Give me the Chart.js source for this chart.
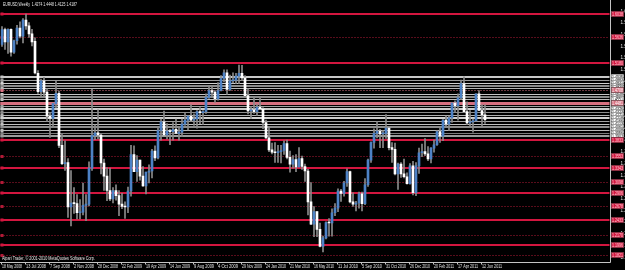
<!DOCTYPE html>
<html>
<head>
<meta charset="utf-8">
<title>EURUSD Weekly</title>
<script src="https://cdn.jsdelivr.net/npm/chart.js@4.4.1/dist/chart.umd.min.js"></script>
<style>
  html, body { margin: 0; padding: 0; background: #000; }
  #wrap { width: 625px; height: 270px; position: relative; }
</style>
</head>
<body>
<div id="wrap"><canvas id="chart"></canvas></div>
<script>
'use strict';

// ******* DATA *********
let months = ['Jan', 'Feb', 'Mar', 'Apr', 'May', 'Jun', 'Jul', 'Aug', 'Sep', 'Oct', 'Nov', 'Dec'];
let totalSlots = 203; // weekly slots, the last ones are the empty right margin
let labelEvery = 8;

let opens = [
  1.5505, 1.5767, 1.5550, 1.5770, 1.5370, 1.5570, 1.5790, 1.5650, 1.5930, 1.5830, 1.5690, 1.5560,
  1.5000, 1.4680, 1.4870, 1.4670, 1.4250, 1.4210, 1.4470, 1.4650, 1.3740, 1.3420, 1.3440, 1.2660,
  1.2730, 1.2720, 1.2560, 1.2570, 1.2690, 1.2710, 1.3340, 1.3910, 1.3960, 1.3920, 1.3430, 1.3200,
  1.2950, 1.2800, 1.2950, 1.2860, 1.2710, 1.2670, 1.2660, 1.2940, 1.3580, 1.3280, 1.3480, 1.3200,
  1.3030, 1.3270, 1.3290, 1.3640, 1.3520, 1.4000, 1.4150, 1.3920, 1.3990, 1.3980, 1.4020, 1.3950,
  1.3970, 1.4110, 1.4180, 1.4250, 1.4180, 1.4200, 1.4330, 1.4310, 1.4330, 1.4580, 1.4700, 1.4670,
  1.4550, 1.4700, 1.4910, 1.5010, 1.4720, 1.4870, 1.4880, 1.4950, 1.5000, 1.4920, 1.4610, 1.4340,
  1.4360, 1.4330, 1.4410, 1.4380, 1.4140, 1.3870, 1.3660, 1.3620, 1.3610, 1.3630, 1.3650, 1.3770,
  1.3530, 1.3410, 1.3490, 1.3360, 1.3510, 1.3370, 1.3290, 1.2750, 1.2360, 1.2580, 1.2270, 1.1970,
  1.2120, 1.2390, 1.2380, 1.2560, 1.2640, 1.2940, 1.2900, 1.3080, 1.3280, 1.2750, 1.2710, 1.2730,
  1.2890, 1.2720, 1.3050, 1.3480, 1.3790, 1.3950, 1.3990, 1.3940, 1.3950, 1.4040, 1.3700, 1.3670,
  1.3240, 1.3410, 1.3240, 1.3190, 1.3070, 1.3380, 1.2910, 1.3380, 1.3610, 1.3630, 1.3590, 1.3500,
  1.3690, 1.3750, 1.3980, 1.3900, 1.4180, 1.4110, 1.4220, 1.4480, 1.4430, 1.4570, 1.4820, 1.4330,
  1.4130, 1.4150, 1.4170, 1.4640, 1.4350, 1.4274
];
let highs = [
  1.5818, 1.5790, 1.5780, 1.5780, 1.5580, 1.5840, 1.5900, 1.5960, 1.6038, 1.5890, 1.5770, 1.5620,
  1.5050, 1.4900, 1.4930, 1.4730, 1.4300, 1.4480, 1.4860, 1.4690, 1.3940, 1.3820, 1.3510, 1.3300,
  1.3000, 1.2880, 1.2790, 1.3080, 1.2880, 1.3450, 1.4720, 1.4100, 1.4360, 1.3940, 1.3500, 1.3350,
  1.3340, 1.3000, 1.3050, 1.2950, 1.2900, 1.2750, 1.3010, 1.3740, 1.3730, 1.3560, 1.3480, 1.3370,
  1.3270, 1.3400, 1.3670, 1.3730, 1.4050, 1.4200, 1.4340, 1.4120, 1.4020, 1.4140, 1.4200, 1.4070,
  1.4200, 1.4300, 1.4260, 1.4450, 1.4290, 1.4350, 1.4400, 1.4350, 1.4640, 1.4770, 1.4780, 1.4700,
  1.4840, 1.4960, 1.5060, 1.5060, 1.4970, 1.5010, 1.5000, 1.5145, 1.5140, 1.4960, 1.4730, 1.4420,
  1.4570, 1.4460, 1.4580, 1.4400, 1.4180, 1.4040, 1.3780, 1.3790, 1.3740, 1.3740, 1.3820, 1.3830,
  1.3640, 1.3560, 1.3580, 1.3700, 1.3550, 1.3410, 1.3320, 1.3090, 1.2670, 1.2580, 1.2380, 1.2150,
  1.2400, 1.2460, 1.2630, 1.2720, 1.2980, 1.2970, 1.3110, 1.3330, 1.3290, 1.2910, 1.2760, 1.2920,
  1.2920, 1.3160, 1.3500, 1.3800, 1.4030, 1.4160, 1.4020, 1.4000, 1.4280, 1.4070, 1.3790, 1.3780,
  1.3430, 1.3440, 1.3500, 1.3260, 1.3420, 1.3460, 1.3440, 1.3690, 1.3760, 1.3860, 1.3720, 1.3700,
  1.3830, 1.4000, 1.4040, 1.4190, 1.4250, 1.4250, 1.4490, 1.4520, 1.4640, 1.4880, 1.4940, 1.4500,
  1.4350, 1.4200, 1.4640, 1.4700, 1.4450, 1.4448
];
let lows = [
  1.5470, 1.5420, 1.5350, 1.5300, 1.5350, 1.5510, 1.5620, 1.5530, 1.5770, 1.5630, 1.5480, 1.4990,
  1.4650, 1.4600, 1.4580, 1.4160, 1.3880, 1.4050, 1.4400, 1.3700, 1.3400, 1.3300, 1.2480, 1.2330,
  1.2550, 1.2450, 1.2450, 1.2520, 1.2420, 1.2680, 1.3300, 1.3840, 1.3850, 1.3240, 1.2950, 1.2770,
  1.2770, 1.2730, 1.2780, 1.2510, 1.2630, 1.2460, 1.2560, 1.2850, 1.3280, 1.3110, 1.3130, 1.3020,
  1.2890, 1.3080, 1.3170, 1.3470, 1.3500, 1.3830, 1.3920, 1.3850, 1.3750, 1.3830, 1.3960, 1.3830,
  1.3890, 1.4090, 1.4010, 1.4160, 1.4090, 1.4040, 1.4120, 1.4100, 1.4300, 1.4560, 1.4580, 1.4490,
  1.4530, 1.4690, 1.4850, 1.4630, 1.4700, 1.4830, 1.4820, 1.4820, 1.4870, 1.4580, 1.4290, 1.4210,
  1.4300, 1.4260, 1.4370, 1.4030, 1.3860, 1.3630, 1.3590, 1.3440, 1.3440, 1.3430, 1.3580, 1.3500,
  1.3270, 1.3340, 1.3280, 1.3360, 1.3320, 1.3110, 1.2520, 1.2350, 1.2140, 1.2140, 1.1960, 1.1876,
  1.2100, 1.2150, 1.2150, 1.2510, 1.2580, 1.2760, 1.2850, 1.3020, 1.2730, 1.2670, 1.2590, 1.2640,
  1.2590, 1.2700, 1.3020, 1.3440, 1.3690, 1.3870, 1.3700, 1.3700, 1.3860, 1.3660, 1.3440, 1.3220,
  1.2970, 1.3180, 1.3170, 1.3060, 1.3060, 1.2870, 1.2860, 1.3250, 1.3540, 1.3560, 1.3470, 1.3430,
  1.3620, 1.3740, 1.3790, 1.3820, 1.4050, 1.4000, 1.4140, 1.4310, 1.4180, 1.4540, 1.4310, 1.4100,
  1.4050, 1.3970, 1.4160, 1.4350, 1.4070, 1.4125
];
let closes = [
  1.5767, 1.5550, 1.5770, 1.5370, 1.5570, 1.5790, 1.5650, 1.5930, 1.5830, 1.5690, 1.5550, 1.5005,
  1.4680, 1.4870, 1.4670, 1.4250, 1.4210, 1.4470, 1.4650, 1.3740, 1.3420, 1.3440, 1.2660, 1.2730,
  1.2720, 1.2560, 1.2570, 1.2690, 1.2710, 1.3340, 1.3910, 1.3960, 1.3920, 1.3430, 1.3200, 1.2950,
  1.2800, 1.2950, 1.2860, 1.2710, 1.2670, 1.2660, 1.2940, 1.3580, 1.3280, 1.3480, 1.3200, 1.3030,
  1.3270, 1.3290, 1.3640, 1.3520, 1.4000, 1.4150, 1.3920, 1.3990, 1.3980, 1.4020, 1.3950, 1.3970,
  1.4110, 1.4180, 1.4250, 1.4180, 1.4200, 1.4330, 1.4310, 1.4330, 1.4580, 1.4700, 1.4670, 1.4550,
  1.4700, 1.4910, 1.5010, 1.4720, 1.4870, 1.4880, 1.4950, 1.5000, 1.4920, 1.4610, 1.4340, 1.4360,
  1.4330, 1.4410, 1.4380, 1.4140, 1.3870, 1.3660, 1.3620, 1.3610, 1.3630, 1.3650, 1.3770, 1.3530,
  1.3410, 1.3490, 1.3360, 1.3510, 1.3370, 1.3290, 1.2750, 1.2360, 1.2580, 1.2270, 1.1970, 1.2120,
  1.2390, 1.2380, 1.2560, 1.2640, 1.2940, 1.2900, 1.3080, 1.3280, 1.2750, 1.2710, 1.2730, 1.2890,
  1.2720, 1.3050, 1.3480, 1.3790, 1.3950, 1.3990, 1.3940, 1.3950, 1.4040, 1.3700, 1.3670, 1.3240,
  1.3410, 1.3240, 1.3190, 1.3070, 1.3380, 1.2910, 1.3380, 1.3610, 1.3630, 1.3590, 1.3500, 1.3690,
  1.3750, 1.3980, 1.3900, 1.4180, 1.4110, 1.4220, 1.4480, 1.4430, 1.4570, 1.4820, 1.4330, 1.4130,
  1.4150, 1.4170, 1.4640, 1.4350, 1.4270, 1.4187
];

// price scale labels on the right
let priceTicks = [
  1.1780, 1.1985, 1.2190, 1.2395, 1.2600, 1.2805, 1.3010, 1.3215, 1.3420, 1.3625, 1.3830,
  1.4035, 1.4240, 1.4445, 1.4650, 1.4855, 1.5060, 1.5265, 1.5470, 1.5675, 1.5880, 1.6085
];
let priceMin = 1.1698;
let priceMax = 1.6283;

// horizontal levels drawn on the chart
let redLevels = [1.6038, 1.5180, 1.3833, 1.3343, 1.2906, 1.2433, 1.1996];
let redDotLevels = [1.5636, 1.3553, 1.3098, 1.2678, 1.2170, 1.1821];
let pinkLevels = [1.4481];
let pinkDotLevels = [1.4708];
let greyLevels = [
  1.4935, 1.4883, 1.4831, 1.4778, 1.4743, 1.4638, 1.4586, 1.4551, 1.4428, 1.4376,
  1.4323, 1.4271, 1.4218, 1.4166, 1.4113, 1.4061, 1.4008, 1.3956, 1.3903
];
let greyShades = ['#c8c8c8', '#9a9a9a', '#d0d0d0', '#8c8c8c', '#b4b4b4', '#c4c4c4', '#8c8c8c',
  '#bcbcbc', '#a0a0a0', '#cccccc', '#8c8c8c', '#b0b0b0', '#d0d0d0', '#a0a0a0', '#c0c0c0',
  '#8c8c8c', '#b8b8b8', '#7c7c7c', '#9c9c9c'];

let titleText = 'EURUSD,Weekly  1.4274 1.4448 1.4125 1.4187';
let copyText = 'Alpari Trader, \u00a9 2001-2010 MetaQuotes Software Corp.';

// ******* COLOURS ********
let bullColor = '#4d82c6';
let bearColor = '#ffffff';
let wickColor = '#8a8a8a';
let redColor = '#d3163f';
let redDotColor = '#b01a36';
let pinkColor = '#d77080';
let frameColor = '#c4c4c4';
let tinyFont = '4.6px "Liberation Sans", Arial, sans-serif';

// ******* HELPERS ********
function weekLabel(i) {
  let d = new Date(Date.UTC(2008, 4, 18 + 7 * i));
  return d.getUTCDate() + ' ' + months[d.getUTCMonth()] + ' ' + d.getUTCFullYear();
}

let weeks = [];
for (let i = 0; i < totalSlots; i++) {
  weeks.push(weekLabel(i));
}

let bodies = opens.map((o, i) => [o, closes[i]]);
let wicks = lows.map((l, i) => [l, highs[i]]);
let bodyColors = opens.map((o, i) => (closes[i] >= o ? bullColor : bearColor));

function drawLevel(ctx, area, yScale, value, color, width, dash) {
  let py = Math.round(yScale.getPixelForValue(value)) + (width % 2 ? 0.5 : 0);
  ctx.beginPath();
  ctx.strokeStyle = color;
  ctx.lineWidth = width;
  ctx.setLineDash(dash || []);
  ctx.moveTo(area.left, py);
  ctx.lineTo(area.right, py);
  ctx.stroke();
  ctx.setLineDash([]);
  ctx.fillStyle = color;
  ctx.fillRect(area.left, py - 1.5, 3, 3);
}

function drawPriceBox(ctx, x, yScale, value, fill, textColor) {
  let py = Math.round(yScale.getPixelForValue(value));
  ctx.fillStyle = fill;
  ctx.fillRect(x, py - 3, 13, 6);
  ctx.strokeStyle = '#444';
  ctx.lineWidth = 0.5;
  ctx.strokeRect(x + 0.25, py - 2.75, 12.5, 5.5);
  ctx.fillStyle = textColor;
  ctx.fillText(value.toFixed(4), x + 1, py + 0.3, 11);
}

// ******* PLUGIN FOR LEVELS, FRAME AND TEXTS ********
let levelsPlugin = {
  id: 'levels',
  beforeDatasetsDraw(chart) {
    let ctx = chart.ctx;
    let area = chart.chartArea;
    let y = chart.scales.y;
    ctx.save();
    greyLevels.forEach((v, i) => drawLevel(ctx, area, y, v, greyShades[i % greyShades.length], i % 3 === 0 ? 2 : 1));
    pinkDotLevels.forEach(v => drawLevel(ctx, area, y, v, pinkColor, 1, [1, 2]));
    pinkLevels.forEach(v => drawLevel(ctx, area, y, v, pinkColor, 3));
    redDotLevels.forEach(v => drawLevel(ctx, area, y, v, redDotColor, 1, [1, 2]));
    redLevels.forEach(v => drawLevel(ctx, area, y, v, redColor, 2));
    ctx.restore();
  },
  afterDraw(chart) {
    let ctx = chart.ctx;
    let area = chart.chartArea;
    let y = chart.scales.y;
    let x = chart.scales.x;
    ctx.save();

    // frame
    ctx.strokeStyle = frameColor;
    ctx.lineWidth = 1;
    ctx.beginPath();
    ctx.moveTo(Math.round(area.right) + 0.5, 0);
    ctx.lineTo(Math.round(area.right) + 0.5, Math.round(area.bottom) + 0.5);
    ctx.lineTo(0, Math.round(area.bottom) + 0.5);
    ctx.stroke();

    // date labels with little ticks, placed by the category scale
    ctx.font = tinyFont;
    ctx.textAlign = 'left';
    ctx.textBaseline = 'middle';
    for (let i = 0; i < opens.length; i += labelEvery) {
      let px = Math.round(x.getPixelForValue(i) - 1) + 0.5;
      ctx.beginPath();
      ctx.moveTo(px, area.bottom);
      ctx.lineTo(px, area.bottom + 2.5);
      ctx.stroke();
      ctx.fillStyle = '#e0e0e0';
      ctx.fillText(weeks[i], px + 0.5, area.bottom + 4.5, 20);
    }

    // price boxes on the axis
    let bx = Math.round(area.right) + 1;
    greyLevels.forEach(v => drawPriceBox(ctx, bx, y, v, '#ffffff', '#000000'));
    pinkLevels.concat(pinkDotLevels).forEach(v => drawPriceBox(ctx, bx, y, v, pinkColor, '#ffffff'));
    redLevels.concat(redDotLevels).forEach(v => drawPriceBox(ctx, bx, y, v, redColor, '#ffd0d8'));

    // header and copyright
    ctx.fillStyle = '#e8e8e8';
    ctx.fillText(titleText, 3, 4.5, 74);
    ctx.fillText(copyText, 2, area.bottom - 3, 93);
    ctx.restore();
  }
};

// ******* CHART ********
let ctx = document.getElementById('chart');

new Chart(ctx, { //eslint-disable-line
  type: 'bar',
  data: {
    labels: weeks,
    datasets: [
      {
        label: 'body',
        data: bodies,
        backgroundColor: bodyColors,
        barThickness: 2,
        minBarLength: 1,
        grouped: false,
        borderSkipped: false
      },
      {
        label: 'wick',
        data: wicks,
        backgroundColor: wickColor,
        barThickness: 1,
        grouped: false
      }
    ]
  },
  options: {
    responsive: true,
    maintainAspectRatio: false,
    animation: false,
    events: [],
    layout: { padding: { left: 0.5, top: 0, right: 0, bottom: 0 } },
    plugins: {
      legend: { display: false },
      tooltip: { enabled: false },
      title: { display: false }
    },
    scales: {
      x: {
        type: 'category',
        offset: true,
        grid: { display: false },
        border: { display: false },
        ticks: { display: false },
        afterFit: function (scale) {
          scale.height = 8;
          scale.paddingLeft = 0;
          scale.paddingRight = 0;
        }
      },
      y: {
        position: 'right',
        min: priceMin,
        max: priceMax,
        grid: { display: false },
        border: { display: false },
        afterBuildTicks: function (scale) {
          scale.ticks = priceTicks.map(v => ({ value: v }));
        },
        ticks: {
          color: '#e0e0e0',
          font: { size: 4.6, family: '"Liberation Sans", Arial, sans-serif' },
          padding: 3,
          callback: function (v) {
            return Number(v).toFixed(4);
          }
        },
        afterFit: function (scale) {
          scale.width = 15.5;
          scale.paddingTop = 0;
          scale.paddingBottom = 0;
        }
      }
    }
  },
  plugins: [levelsPlugin]
});
</script>
</body>
</html>
